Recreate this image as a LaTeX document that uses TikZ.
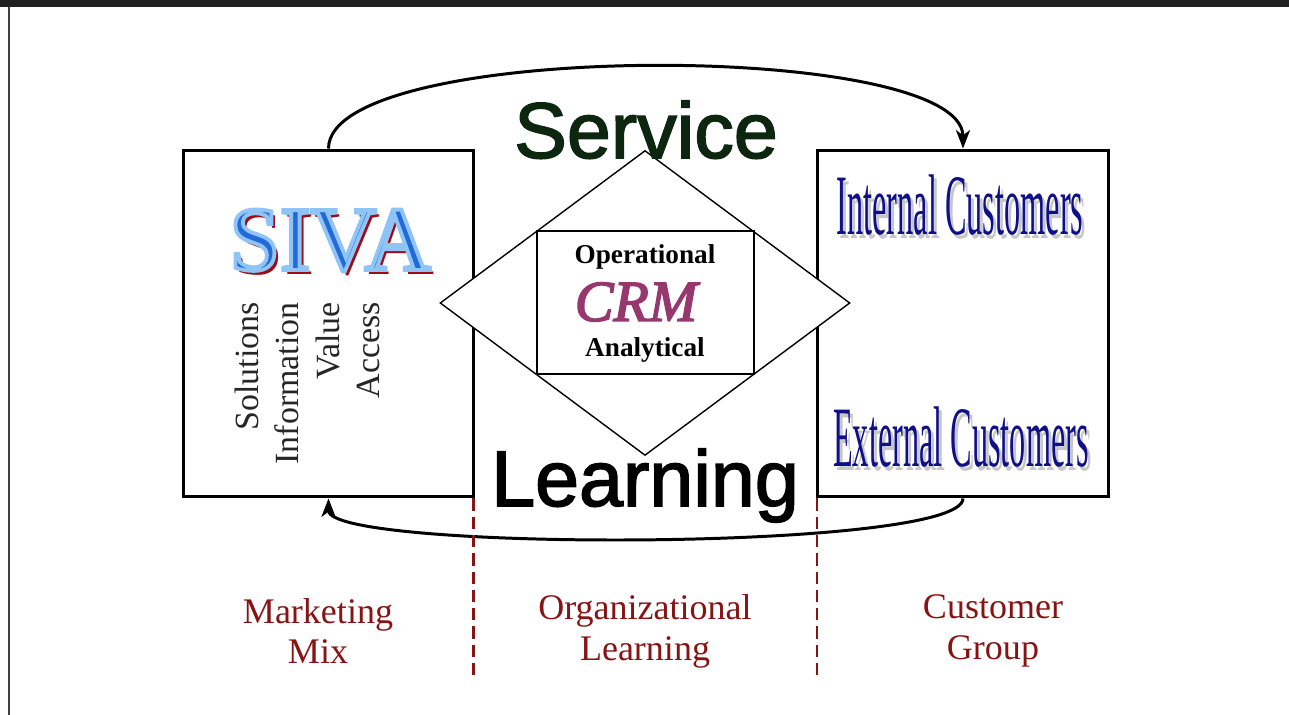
\documentclass[tikz,border=0pt]{standalone}
\usepackage{fontspec}
\usepackage{graphicx}
\setmainfont{Liberation Serif}
\newfontfamily\wordartfont{Liberation Sans}
\usetikzlibrary{arrows.meta,shapes.geometric}

\definecolor{servgreen}{RGB}{12,38,16}
\definecolor{crmplum}{RGB}{150,55,110}
\definecolor{custnavy}{RGB}{15,15,135}
\definecolor{tagred}{RGB}{135,20,20}
\definecolor{sivablue}{RGB}{35,105,215}
\definecolor{sivared}{RGB}{160,10,20}

\newcommand\narrowtext[1]{\scalebox{0.375}[1]{#1}}
% fill and stroke the glyphs (light blue rim round a blue core)
\newcommand\rimtext[1]{\special{pdf:code q 2 Tr 2.2 w 0.56 0.77 0.97 RG}#1\special{pdf:code Q}}
% slightly heavier glyphs, stroke in the text colour
\newcommand\heavytext[1]{\special{pdf:code q 2 Tr 0.9 w}#1\special{pdf:code Q}}

\begin{document}
\begin{tikzpicture}[
    x=0.02cm, y=-0.02cm,
    box/.style={draw, line width=1.7pt, minimum width=5.82cm,
      minimum height=6.94cm, inner sep=0pt},
    thinbox/.style={draw, line width=0.8pt, fill=white, inner sep=0pt},
    flow/.style={line width=1.7pt,
      -{Stealth[length=10.5pt,width=8pt,inset=3pt]}},
    divider/.style={tagred, line width=1.3pt, dash pattern=on 7pt off 3.4pt},
    tag/.style={text=tagred, align=center,
      font=\fontsize{20.5}{23.3}\selectfont},
    mix/.style={rotate=90, anchor=east, inner sep=0pt, text=black!85,
      font=\fontsize{19.3}{22}\selectfont},
    siva/.style={anchor=base, inner sep=0pt, font=\fontsize{52}{55}\selectfont},
    cust/.style={anchor=base, inner sep=0pt, font=\fontsize{49}{52}\selectfont},
    big/.style={anchor=base, inner sep=0pt,
      font=\wordartfont\fontsize{45}{48}\selectfont},
    crmtext/.style={font=\bfseries\fontsize{15.5}{18}\selectfont},
  ]
  \useasboundingbox (0,0) rectangle (1289,715);

  % frame
  \fill[black!87] (0,0) rectangle (1289,7);
  \draw[black!75, line width=1.3pt] (9,7) -- (9,715);

  % the three groups
  \node[box] (mixbox) at (328.5,323.5) {};
  \node[box] (custbox) at (963,323.5) {};
  \node[thinbox, diamond, minimum width=8.2cm, minimum height=6.1cm]
    (dia) at (645,303) {};
  \node[thinbox, minimum width=4.34cm, minimum height=2.86cm]
    (crmbox) at (645.5,302.5) {};

  % CRM
  \node[crmtext] (oper) at (645,257) {Operational};
  \node[text=crmplum, font=\itshape\fontsize{33}{36}\selectfont]
    (crm) at (636,302) {\heavytext{CRM}};
  \node[crmtext] (anal) at (645,350) {Analytical};

  % marketing mix
  \node[siva, text=sivared] (sivashadow) at (334,275) {SIVA};
  \node[siva, text=sivablue] (siva) at (330,270) {\rimtext{SIVA}};
  \node[mix] (sol) at (247,302) {Solutions};
  \node[mix] (inf) at (287,302) {Information};
  \node[mix] (val) at (328,302) {Value};
  \node[mix] (acc) at (368,302) {Access};

  % customer groups
  \node[cust, text=black!22] (intshadow) at (963,239) {\narrowtext{Internal Customers}};
  \node[cust, text=custnavy] (internal) at (960,235) {\narrowtext{Internal Customers}};
  \node[cust, text=black!22] (extshadow) at (964,471) {\narrowtext{External Customers}};
  \node[cust, text=custnavy] (external) at (961,467) {\narrowtext{External Customers}};

  % service and learning loop
  \node[big, text=servgreen] (service) at (646,158) {\heavytext{Service}};
  \node[big] (learning) at (645,506) {\heavytext{Learning}};
  \draw[flow] (mixbox.north) to[out=90, in=90, looseness=0.44] (custbox.north);
  \draw[flow] (custbox.south) to[out=-90, in=-90, looseness=0.215] (mixbox.south);

  % columns
  \draw[divider] (mixbox.south east) ++(-2,0) -- ++(0,180);
  \draw[divider] (custbox.south west) ++(1,0) -- ++(0,180);
  \node[tag] (mkt) at (318,631) {Marketing\\Mix};
  \node[tag] (org) at (645,631) {Organizational\\Learning};
  \node[tag] (grp) at (993,631) {Customer\\Group};
\end{tikzpicture}
\end{document}
